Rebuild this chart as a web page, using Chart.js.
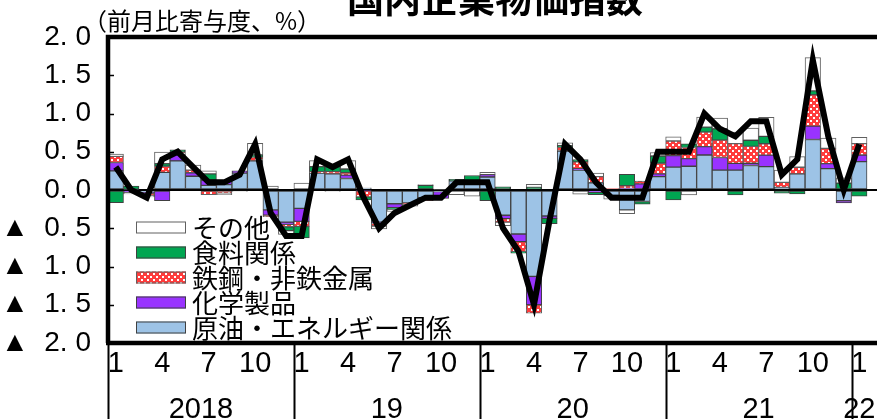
<!DOCTYPE html>
<html>
<head>
<meta charset="utf-8">
<script src="https://cdn.jsdelivr.net/npm/chart.js@4.4.0/dist/chart.umd.min.js"></script>
<style>
  html, body { margin: 0; padding: 0; background: #fff; overflow: hidden; }
  #wrap { position: relative; width: 877px; height: 419px; overflow: hidden; }
  #c { position: absolute; left: 0; top: 0; }
  .title { position: absolute; left: 300px; width: 390px; top: -21px; text-align: center;
           font: 700 37px "Noto Sans CJK JP", sans-serif; line-height: 1; white-space: nowrap; color: #000; }
  .sub { position: absolute; left: 83px; top: 8px; font: 400 24px "Noto Sans CJK JP", sans-serif;
         line-height: 1; white-space: nowrap; color: #000; }
</style>
</head>
<body>
<div id="wrap">
  <canvas id="c" width="898" height="419"></canvas>
  <div class="title">国内企業物価指数</div>
  <div class="sub">（前月比寄与度、%）</div>
</div>
<script>
// Month numbers along the category axis: Jan 2018 – Mar 2022
const monthNumbers = [
  1,2,3,4,5,6,7,8,9,10,11,12,
  1,2,3,4,5,6,7,8,9,10,11,12,
  1,2,3,4,5,6,7,8,9,10,11,12,
  1,2,3,4,5,6,7,8,9,10,11,12,
  1,2,3
];
const shownMonths = [1, 4, 7, 10];
const yearLabels = ['2018', '19', '20', '21', '22'];

// Contributions to the month-on-month change (percentage points), Jan 2018 – Jan 2022
const energy = [
  0.25, 0.01, -0.03, 0.23, 0.38, 0.18, 0.06, 0.07, 0.22, 0.38, -0.26, -0.42,
  -0.24, 0.22, 0.21, 0.15, 0.02, -0.42, -0.18, -0.17, -0.10, -0.02, 0.12, 0.12,
  0.17, -0.33, -0.575, -1.13, -0.34, 0.51, 0.26, 0.095, -0.07, -0.26, -0.15, 0.175,
  0.30, 0.31, 0.457, 0.26, 0.26, 0.32, 0.305, 0.035, 0.21, 0.66, 0.28, -0.14,
  0.37
];
const chemicals = [
  0.11, -0.03, -0.01, -0.14, 0.08, 0.045, 0.07, 0.06, 0.03, 0, -0.07, -0.03,
  -0.17, 0, 0, 0.045, -0.01, -0.01, -0.05, 0, -0.02, -0.09, 0, 0,
  0.03, -0.045, -0.10, -0.37, -0.03, 0, 0.02, -0.03, 0, 0.02, 0.08, 0.035,
  0.15, 0.10, 0.11, 0.165, 0.087, 0.03, 0.15, 0, 0, 0.175, 0.065, -0.03,
  0.087
];
const steel = [
  0.08, 0, -0.03, 0.08, 0.035, 0.035, -0.06, -0.04, 0, 0.05, -0.02, -0.03,
  -0.065, 0.02, 0.03, 0.03, -0.08, -0.04, 0, -0.02, -0.02, 0, 0, 0,
  0, -0.045, -0.13, -0.11, 0, 0.05, 0.087, 0.08, 0.02, 0.035, 0.035, 0.14,
  0.19, 0.145, 0.19, 0.226, 0.26, 0.22, 0.15, 0.065, 0.087, 0.41, 0.20, 0,
  0.15
];
const food = [
  -0.165, 0.04, 0, 0.035, 0.03, 0, 0.08, 0, 0, 0.03, 0, -0.05,
  -0.15, 0.065, 0.065, 0.05, -0.04, 0, -0.02, 0, 0.06, 0, 0.02, 0.07,
  -0.14, 0.04, -0.02, 0.035, -0.07, 0.02, 0.03, -0.03, 0, 0.15, -0.035, 0.095,
  -0.13, 0.05, 0.065, 0.15, -0.065, 0.08, 0.095, -0.04, -0.05, 0.05, 0, 0.09,
  -0.08
];
const others = [
  0.03, -0.02, -0.02, 0.15, 0, 0.065, 0.04, -0.02, -0.02, 0.15, 0.05, -0.05,
  0.09, 0.08, -0.02, 0.11, 0.01, -0.04, -0.03, -0.02, 0.01, 0.01, -0.06, -0.08,
  0.03, -0.045, 0, 0.04, 0, 0.035, -0.055, 0.045, -0.05, -0.05, 0, 0.045,
  0.055, -0.065, 0.13, 0.14, 0.15, 0.16, 0.25, 0.16, 0.14, 0.435, 0.135, 0.07,
  0.08
];
// Overall month-on-month change (%)
const total = [
  0.3, 0.0, -0.1, 0.4, 0.5, 0.3, 0.1, 0.1, 0.2, 0.6, -0.3, -0.6,
  -0.6, 0.4, 0.3, 0.4, -0.1, -0.5, -0.3, -0.2, -0.1, -0.1, 0.1, 0.1,
  0.1, -0.5, -0.8, -1.5, -0.4, 0.6, 0.4, 0.1, -0.1, -0.1, -0.1, 0.5,
  0.5, 0.5, 1.0, 0.8, 0.7, 0.9, 0.9, 0.2, 0.4, 1.7, 0.7, 0.0,
  0.6
];

const seriesNames = ['原油・エネルギー関係', '化学製品', '鉄鋼・非鉄金属', '食料関係', 'その他'];
const yTickValues = [2, 1.5, 1, 0.5, 0, -0.5, -1, -1.5, -2];
const yTickLabels = ['2. 0', '1. 5', '1. 0', '0. 5', '0. 0', '▲  0. 5', '▲  1. 0', '▲  1. 5', '▲  2. 0'];

const labelFont = '"Liberation Sans Narrow", "Liberation Sans", sans-serif';
const cjkFont = '"Noto Sans CJK JP", sans-serif';

const canvas = document.getElementById('c');
const ctx = canvas.getContext('2d');

// red ground with small white squares for the steel series
function dotPattern() {
  const p = document.createElement('canvas');
  p.width = 6; p.height = 6;
  const g = p.getContext('2d');
  g.fillStyle = '#ff3c3c';
  g.fillRect(0, 0, 6, 6);
  g.fillStyle = '#ffffff';
  g.fillRect(0, 0, 2, 2);
  g.fillRect(3, 3, 2, 2);
  return ctx.createPattern(p, 'repeat');
}

const fills = ['#9dc3e6', '#9933ff', dotPattern(), '#00a651', '#ffffff'];
const edges = ['#404040', '#404040', '#606060', '#404040', '#606060'];
const seriesValues = [energy, chemicals, steel, food, others];

// year boundaries and centres, from the month numbers of the plotted range
const yearStarts = [];
monthNumbers.forEach((m, i) => { if (m === 1) yearStarts.push(i); });
const lastIndex = total.length - 1;
const yearCenters = yearStarts.map((s, k) => {
  const end = Math.min(k + 1 < yearStarts.length ? yearStarts[k + 1] - 1 : lastIndex, lastIndex);
  return (s + end) / 2;
});

const barSets = seriesValues.map((vals, k) => ({
  type: 'bar',
  label: seriesNames[k],
  data: vals.map(v => (v === 0 ? null : v)),
  backgroundColor: fills[k],
  borderColor: edges[k],
  borderWidth: 1,
  borderSkipped: false,
  stack: 'parts',
  order: 2,
  barPercentage: 1,
  categoryPercentage: 1
}));

const lineSet = {
  type: 'line',
  label: '総平均',
  data: total,
  borderColor: '#000',
  borderWidth: 6,
  borderJoinStyle: 'miter',
  borderCapStyle: 'butt',
  pointRadius: 0,
  tension: 0,
  fill: false,
  stack: 'total',
  order: 0
};

// legend inside the plot, listed from the top series down
const insideLegend = {
  id: 'insideLegend',
  afterDatasetsDraw(chart) {
    const c = chart.ctx;
    c.save();
    c.font = '26px ' + cjkFont;
    c.textBaseline = 'middle';
    const order = [4, 3, 2, 1, 0];
    order.forEach((k, row) => {
      const cy = 227.5 + row * 25;
      c.fillStyle = fills[k];
      c.fillRect(136, cy - 6, 50, 12);
      c.strokeStyle = edges[k];
      c.lineWidth = 1;
      c.strokeRect(136.5, cy - 5.5, 49, 11);
      c.fillStyle = '#000';
      c.fillText(seriesNames[k], 192, cy + 1);
    });
    c.restore();
  }
};

// heavy plot frame, inner tick marks and year separators under the axis
const frame = {
  id: 'frame',
  afterDraw(chart) {
    const c = chart.ctx;
    const a = chart.chartArea;
    const x = chart.scales.x;
    const y = chart.scales.y;
    const step = x.getPixelForValue(1) - x.getPixelForValue(0);
    c.save();
    c.strokeStyle = '#000';
    c.lineWidth = 2;
    c.beginPath();
    yearStarts.forEach(i => {
      const px = Math.round(x.getPixelForValue(i) - step / 2) + 0.5;
      c.moveTo(px, a.bottom);
      c.lineTo(px, chart.height);
    });
    c.stroke();
    c.lineWidth = 1.5;
    c.beginPath();
    yTickValues.forEach(v => {
      if (v === 0 || v === 2 || v === -2) return;
      const py = Math.round(y.getPixelForValue(v)) + 0.5;
      c.moveTo(a.left, py);
      c.lineTo(a.left + 6, py);
    });
    c.stroke();
    c.lineWidth = 4.5;
    c.beginPath();
    c.moveTo(a.left, a.bottom);
    c.lineTo(a.left, a.top);
    c.lineTo(chart.width + 5, a.top);
    c.moveTo(a.left - 2, a.bottom);
    c.lineTo(chart.width + 5, a.bottom);
    c.stroke();
    c.restore();
  }
};

new Chart(ctx, {
  data: {
    labels: monthNumbers.map(String),
    datasets: [lineSet, ...barSets]
  },
  options: {
    responsive: false,
    animation: false,
    devicePixelRatio: 1,
    layout: { padding: { top: 37, left: 0, right: 0, bottom: 0 } },
    plugins: { legend: { display: false }, tooltip: { enabled: false }, title: { display: false } },
    scales: {
      x: {
        type: 'category',
        stacked: true,
        offset: true,
        weight: 0,
        grid: { display: false },
        border: { display: false },
        ticks: {
          autoSkip: false, maxRotation: 0, minRotation: 0, padding: -4,
          color: '#000', font: { family: labelFont, size: 29 },
          callback: (v, i) => (shownMonths.includes(monthNumbers[i]) ? String(monthNumbers[i]) : '')
        },
        afterFit: s => { s.height = 30; }
      },
      x2: {
        type: 'linear',
        position: 'bottom',
        weight: 1,
        min: -0.5,
        max: monthNumbers.length - 0.5,
        grid: { display: false },
        border: { display: false },
        afterBuildTicks: s => { s.ticks = yearCenters.map(v => ({ value: v })); },
        ticks: {
          autoSkip: false, maxRotation: 0, minRotation: 0, padding: 12,
          color: '#000', font: { family: labelFont, size: 29 },
          callback: (v, i) => yearLabels[i]
        },
        afterFit: s => { s.height = 46; }
      },
      y: {
        stacked: true,
        min: -2,
        max: 2,
        z: 1,
        border: { display: false },
        grid: {
          drawTicks: false,
          lineWidth: 2,
          color: c => (c.tick && c.tick.value === 0 ? '#000' : 'rgba(0,0,0,0)')
        },
        afterBuildTicks: s => { s.ticks = yTickValues.map(v => ({ value: v })); },
        ticks: {
          padding: 17,
          color: '#000',
          font: { family: labelFont, size: 28 },
          callback: v => yTickLabels[yTickValues.indexOf(v)]
        },
        afterFit: s => { s.width = 108; }
      }
    }
  },
  plugins: [insideLegend, frame]
});
</script>
</body>
</html>
